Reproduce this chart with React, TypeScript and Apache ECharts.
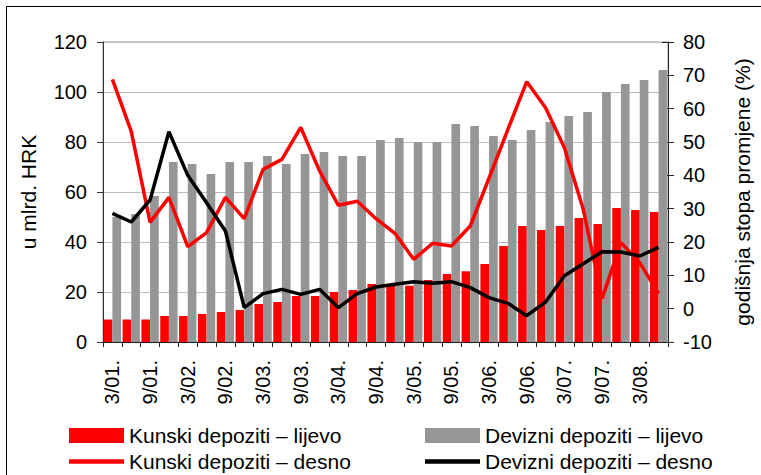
import React, { useEffect, useRef } from "react";
import * as echarts from "echarts";

const categories = [
  "3/01.", "6/01.", "9/01.", "12/01.",
  "3/02.", "6/02.", "9/02.", "12/02.",
  "3/03.", "6/03.", "9/03.", "12/03.",
  "3/04.", "6/04.", "9/04.", "12/04.",
  "3/05.", "6/05.", "9/05.", "12/05.",
  "3/06.", "6/06.", "9/06.", "12/06.",
  "3/07.", "6/07.", "9/07.", "12/07.",
  "3/08.", "6/08.",
];

const kunskiLijevo = [
  9, 9, 9, 10.4, 10.4, 11.2, 12, 12.8, 15.2, 16, 18.4, 18.4, 20, 20.8, 23.2,
  22.6, 22.5, 24.8, 27.2, 28.3, 31.2, 38.4, 46.4, 44.8, 46.4, 49.6, 47.2, 53.6,
  52.8, 52,
];

const devizniLijevo = [
  50, 51.2, 58.4, 72, 71.2, 67.2, 72, 72, 74.4, 71.2, 75.2, 76, 74.4, 74.4,
  80.8, 81.6, 80, 80, 87.2, 86.4, 82.4, 80.8, 84.8, 88, 90.4, 92, 100, 103.2,
  104.8, 108.8,
];

const kunskiDesno = [
  68.8, 53.2, 25.9, 33.4, 18.6, 22.8, 33.4, 27.0, 41.8, 44.8, 54.4, 41.3, 31.0,
  32.2, 27.0, 22.6, 14.8, 19.6, 18.8, 24.8, 39.2, 53.8, 68.1, 60.3, 48.3, 29.8,
  3.0, 19.8, 13.8, 4.5,
];

const devizniDesno = [
  28.6, 26.0, 32.6, 53.1, 40.0, 31.8, 23.3, 0.3, 4.5, 5.8, 4.3, 5.8, 0.3, 4.5,
  6.5, 7.3, 8.1, 7.6, 8.1, 6.3, 3.3, 1.6, -2.1, 2.0, 9.9, 13.5, 17.1, 17.0, 15.8,
  18.4,
];

const leftTicks = { min: 0, max: 120, interval: 20 };
const rightTicks = { min: -10, max: 80, interval: 10 };

const FONT = "'Liberation Sans', Arial, sans-serif";
const LINE_ICON = "path://M0,0 H55 V4.5 H0 Z";

export default function App() {
  const ref = useRef<HTMLDivElement>(null);

  useEffect(() => {
    if (!ref.current) return;
    const chart = echarts.init(ref.current, undefined, { renderer: "svg" });
    const names = [
      "Kunski depoziti – lijevo",
      "Devizni depoziti – lijevo",
      "Kunski depoziti – desno",
      "Devizni depoziti – desno",
    ];
    const legendText = { color: "#000", fontSize: 21, fontFamily: FONT, lineHeight: 21 };
    const legendBase = {
      orient: "vertical",
      top: 425,
      height: 80,
      padding: 0,
      itemWidth: 55,
      itemHeight: 15,
      itemGap: 5,
      textStyle: legendText,
    };
    chart.setOption({
      animation: false,
      backgroundColor: "#fff",
      textStyle: { fontFamily: FONT },
      graphic: [
        {
          type: "rect",
          shape: { x: 6.5, y: 6.5, width: 800, height: 500 },
          style: { fill: "none", stroke: "#000", lineWidth: 1 },
          silent: true,
        },
      ],
      grid: {
        left: 103,
        right: 92,
        top: 42,
        bottom: 133,
        show: true,
        borderColor: "#999",
        borderWidth: 1,
        backgroundColor: "transparent",
      },
      legend: [
        {
          ...legendBase,
          left: 69,
          data: [
            { name: names[0], icon: "rect" },
            { name: names[2], icon: LINE_ICON },
          ],
        },
        {
          ...legendBase,
          left: 425,
          data: [
            { name: names[1], icon: "rect" },
            { name: names[3], icon: LINE_ICON },
          ],
        },
      ],
      xAxis: {
        type: "category",
        data: categories,
        boundaryGap: true,
        axisLine: { lineStyle: { color: "#222", width: 1 } },
        axisTick: { show: true, interval: 0, length: 5, lineStyle: { color: "#222" } },
        axisLabel: {
          interval: 1,
          rotate: 90,
          margin: 18,
          color: "#000",
          fontSize: 20,
          fontFamily: FONT,
        },
        splitLine: { show: false },
      },
      yAxis: [
        {
          type: "value",
          position: "left",
          ...leftTicks,
          name: "u mlrd. HRK",
          nameLocation: "middle",
          nameRotate: 90,
          nameGap: 64,
          nameTextStyle: { color: "#000", fontSize: 21, fontFamily: FONT },
          axisLine: { show: true, lineStyle: { color: "#333", width: 1 } },
          axisTick: { show: true, length: 6, lineStyle: { color: "#333" } },
          axisLabel: { margin: 16, color: "#000", fontSize: 20, fontFamily: FONT },
          splitLine: { show: true, lineStyle: { color: "#bdbdbd", width: 1 } },
        },
        {
          type: "value",
          position: "right",
          ...rightTicks,
          name: "godišnja stopa promjene (%)",
          nameLocation: "middle",
          nameRotate: 90,
          nameGap: 64,
          nameTextStyle: { color: "#000", fontSize: 21, fontFamily: FONT },
          axisLine: { show: true, lineStyle: { color: "#222", width: 1 } },
          axisTick: { show: true, length: 6, lineStyle: { color: "#222" } },
          axisLabel: { margin: 15, color: "#000", fontSize: 20, fontFamily: FONT },
          splitLine: { show: false },
        },
        {
          type: "value",
          position: "right",
          ...rightTicks,
          axisLine: { show: false },
          axisTick: { show: true, inside: true, length: 6, lineStyle: { color: "#222" } },
          axisLabel: { show: false },
          splitLine: { show: false },
        },
      ],
      series: [
        {
          name: names[0],
          type: "bar",
          yAxisIndex: 0,
          data: kunskiLijevo,
          itemStyle: { color: "#ff0000" },
          barGap: "0%",
          barCategoryGap: "8%",
          z: 2,
        },
        {
          name: names[1],
          type: "bar",
          yAxisIndex: 0,
          data: devizniLijevo,
          itemStyle: { color: "#969696" },
          barGap: "0%",
          barCategoryGap: "8%",
          z: 2,
        },
        {
          name: names[2],
          type: "line",
          yAxisIndex: 1,
          data: kunskiDesno,
          symbol: "none",
          lineStyle: { color: "#ff0000", width: 3.5 },
          itemStyle: { color: "#ff0000" },
          z: 3,
        },
        {
          name: names[3],
          type: "line",
          yAxisIndex: 1,
          data: devizniDesno,
          symbol: "none",
          lineStyle: { color: "#000", width: 3.5 },
          itemStyle: { color: "#000" },
          z: 4,
        },
      ],
    });
    return () => chart.dispose();
  }, []);

  return (
    <div
      ref={ref}
      style={{ position: "absolute", left: 0, top: 0, width: 761, height: 475 }}
    />
  );
}
